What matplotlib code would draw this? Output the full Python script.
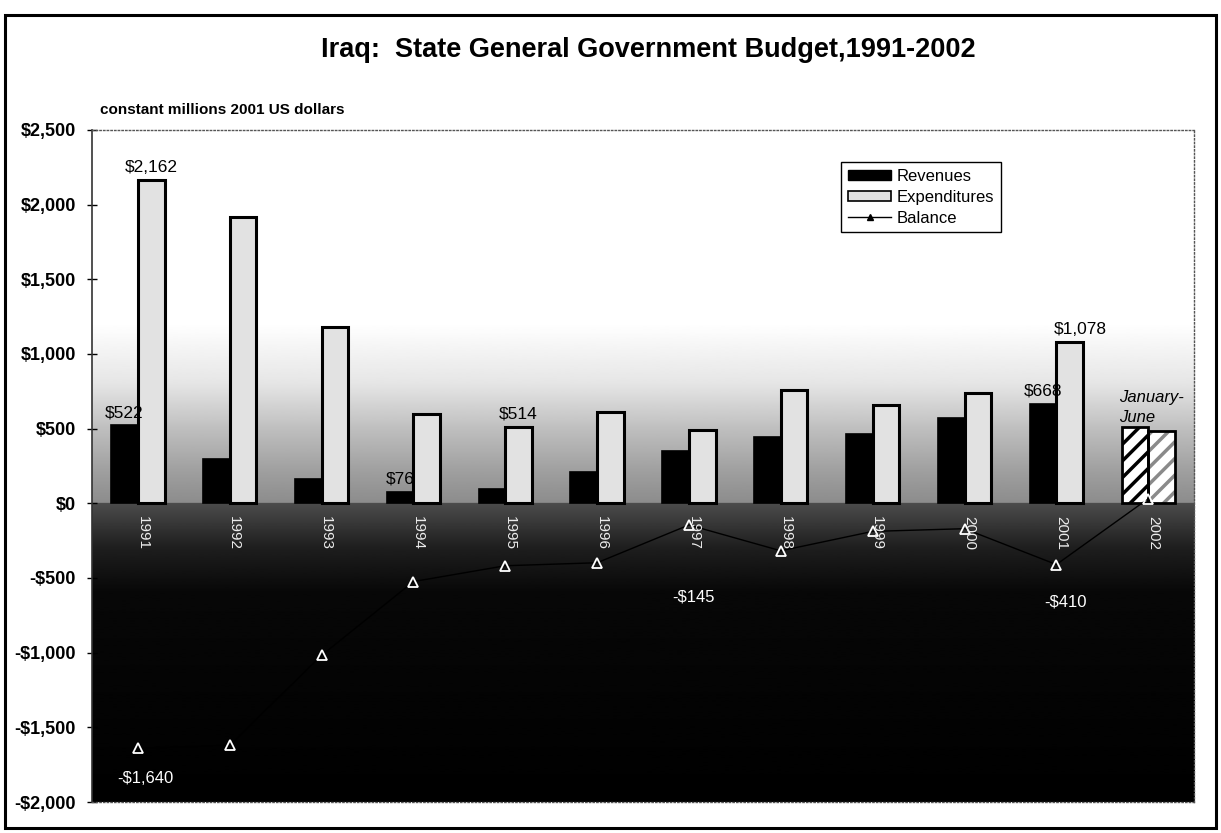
import numpy as np
import matplotlib
matplotlib.use('Agg')
import matplotlib.pyplot as plt
from matplotlib.patches import Patch, Rectangle
from matplotlib.lines import Line2D
from matplotlib import font_manager

# data (constant millions 2001 US dollars)
years = ['1991', '1992', '1993', '1994', '1995', '1996',
         '1997', '1998', '1999', '2000', '2001', '2002']
revenues = [522, 300, 162, 76, 96, 213, 349, 444, 467, 572, 668, 513]
expenditures = [2162, 1920, 1180, 600, 514, 611, 494, 762, 655, 742, 1078, 482]
balance = [-1640, -1620, -1018, -524, -418, -398, -145, -318, -188, -170, -410, 31]

ytick_vals = [2500, 2000, 1500, 1000, 500, 0, -500, -1000, -1500, -2000]
ytick_text = ['$2,500', '$2,000', '$1,500', '$1,000', '$500', '$0',
              '-$500', '-$1,000', '-$1,500', '-$2,000']

# which bars get a value label
rev_labels = [0, 3, 10]
exp_labels = [0, 4, 10]
bal_labels = [0, 6, 10]

plt.rcParams['font.family'] = ['Liberation Sans', 'DejaVu Sans']
plt.rcParams['hatch.linewidth'] = 2.5

try:
    font_manager.findfont('Liberation Sans Narrow', fallback_to_default=False)
    title_family = ['Liberation Sans Narrow', 'Liberation Sans']
    title_size = 21
except Exception:
    title_family = ['Liberation Sans']
    title_size = 19.5

fig = plt.figure(figsize=(12.21, 8.33), dpi=100)
ax = fig.add_axes([0.0753, 0.0372, 0.9027, 0.8068])

# outer frame of the page
fig.patches.append(Rectangle((0.004, 0.006), 0.992, 0.976, transform=fig.transFigure,
                             fill=False, edgecolor='black', linewidth=2.2))

# background: white at the top, gray near zero, black below
grid_y = np.linspace(-2000, 2500, 900)
stops_y = [-2000, -600, -300, -1, 0, 200, 500, 800, 1200, 2500]
stops_g = [0.0, 0.03, 0.12, 0.30, 0.55, 0.62, 0.75, 0.90, 1.0, 1.0]
shade = np.interp(grid_y, stops_y, stops_g)[:, None]
ax.imshow(shade, extent=[-0.5, 11.5, -2000, 2500], origin='lower', aspect='auto',
          cmap='gray', vmin=0, vmax=1, zorder=0, interpolation='bilinear')

x = np.arange(len(years))
w = 0.29
solid = slice(0, 11)
ax.bar(x[solid] - w / 2, revenues[:11], w, color='black', edgecolor='black',
       linewidth=1.2, zorder=2)
ax.bar(x[solid] + w / 2, expenditures[:11], w, color='#e2e2e2', edgecolor='black',
       linewidth=2.2, zorder=2)

# January-June 2002 bars are hatched
ax.bar(x[11] - w / 2, revenues[11], w, color='white', edgecolor='black',
       hatch='//', linewidth=0, zorder=2)
ax.bar(x[11] + w / 2, expenditures[11], w, color='white', edgecolor='#8a8a8a',
       hatch='//', linewidth=0, zorder=2)
ax.bar(x[11] - w / 2, revenues[11], w, fill=False, edgecolor='black', linewidth=2, zorder=3)
ax.bar(x[11] + w / 2, expenditures[11], w, fill=False, edgecolor='black', linewidth=2, zorder=3)

ax.plot(x, balance, color='black', linewidth=1, marker='^', markersize=6.5,
        markerfacecolor='none', markeredgecolor='white', markeredgewidth=1.3, zorder=4)

# value labels
for i in rev_labels:
    ax.text(x[i] - w / 2, revenues[i] + 35, '$%d' % revenues[i], ha='center',
            va='bottom', fontsize=12.5, color='black', zorder=5)
for i in exp_labels:
    ax.text(x[i] + w / 2 + (0.12 if i == 10 else 0), expenditures[i] + 35,
            '${:,}'.format(expenditures[i]), ha='center', va='bottom',
            fontsize=12.5, color='black', zorder=5)
bal_dx = {0: 0.08, 6: 0.05, 10: 0.1}
bal_y = {0: -1840, 6: -630, 10: -660}
for i in bal_labels:
    ax.text(x[i] + bal_dx[i], bal_y[i], '-${:,}'.format(-balance[i]), ha='center',
            va='center', fontsize=12, color='white', zorder=5)

ax.text(x[11] - 0.32, 640, 'January-\nJune', ha='left', va='center', fontsize=12,
        style='italic', linespacing=1.45, zorder=5)

# year labels sit inside the dark band under zero
for i, yr in enumerate(years):
    ax.text(x[i] + 0.05, -200, yr, rotation=270, ha='center', va='center',
            fontsize=11, color='#ececec', zorder=5)

ax.set_xlim(-0.5, 11.5)
ax.set_ylim(-2000, 2500)
ax.set_xticks([])
ax.set_yticks(ytick_vals)
ax.set_yticklabels(ytick_text, fontsize=13, fontweight='bold')
ax.tick_params(axis='y', direction='inout', length=7, width=1, pad=8)
for side in ['top', 'right', 'bottom']:
    ax.spines[side].set_linestyle(':')
    ax.spines[side].set_color('#555555')
    ax.spines[side].set_linewidth(1)
ax.spines['left'].set_linestyle((0, (2, 1)))
ax.spines['left'].set_color('#333333')
ax.spines['left'].set_linewidth(1.2)

handles = [Patch(facecolor='black', edgecolor='black'),
           Patch(facecolor='#e2e2e2', edgecolor='black', linewidth=1.2),
           Line2D([0], [0], color='black', linewidth=1, marker='^', markersize=5,
                  markerfacecolor='black')]
leg = ax.legend(handles, ['Revenues', 'Expenditures', 'Balance'], loc='upper left',
                bbox_to_anchor=(0.68, 0.952), borderaxespad=0, fontsize=12,
                frameon=True, fancybox=False, edgecolor='black', framealpha=1,
                handlelength=2.6, handleheight=0.55, labelspacing=0.35,
                handletextpad=0.3, borderpad=0.4)
leg.get_frame().set_linewidth(1)

fig.text(0.531, 0.940, 'Iraq:  State General Government Budget,1991-2002', ha='center',
         va='center', fontsize=title_size, fontweight='bold', family=title_family)
fig.text(0.082, 0.868, 'constant millions 2001 US dollars', ha='left', va='center',
         fontsize=11, fontweight='bold')

fig.savefig('out.png', dpi=100)
